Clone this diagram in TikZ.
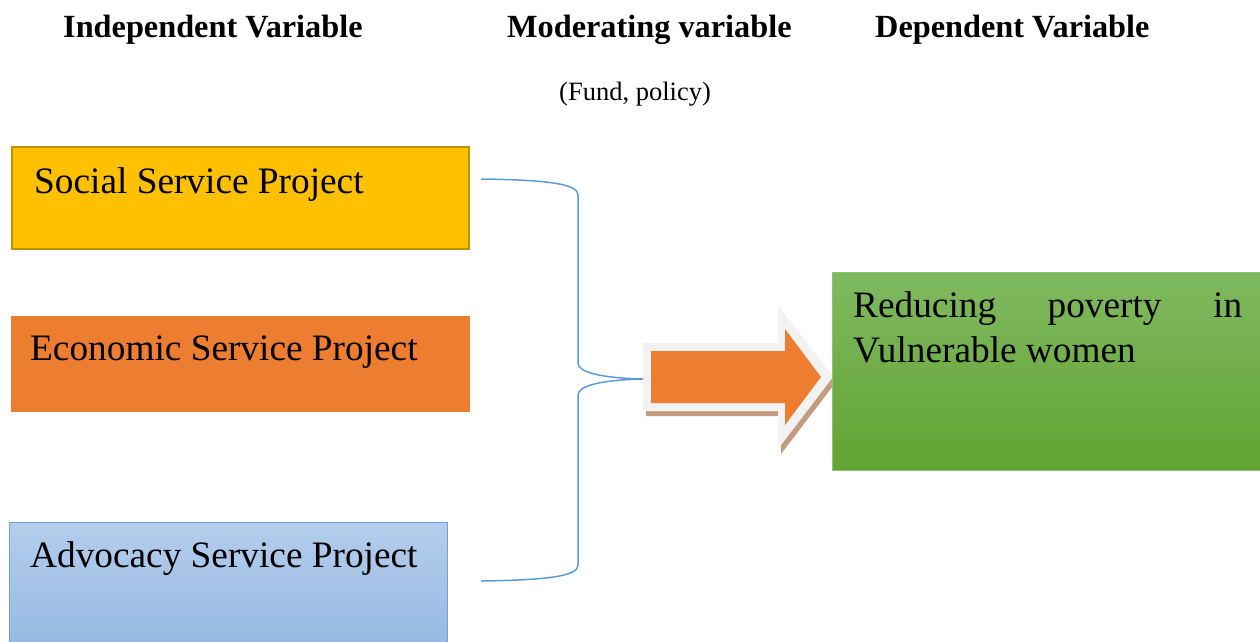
\documentclass[tikz,border=0pt]{standalone}
\usepackage{fontspec}
\setmainfont{Liberation Serif}
\definecolor{socialfill}{HTML}{FFC000}
\definecolor{socialedge}{HTML}{BF9000}
\definecolor{econfill}{HTML}{ED7D31}
\definecolor{advtop}{HTML}{B4CDEC}
\definecolor{advbottom}{HTML}{96B9E2}
\definecolor{advedge}{HTML}{6FA0D8}
\definecolor{greentop}{HTML}{80B960}
\definecolor{greenbottom}{HTML}{62A333}
\definecolor{greenedge}{HTML}{8EC470}
\definecolor{bracecol}{HTML}{5B9BD5}
\definecolor{arrowrim}{HTML}{F2F2F2}
\definecolor{arrowshadow}{HTML}{C49B7E}
\tikzset{
  box/.style={anchor=north west, inner sep=0pt, outer sep=0pt},
  boxtext/.style={anchor=base west, inner sep=0pt, font=\fontsize{37.3}{45}\selectfont},
  heading/.style={anchor=base west, inner sep=0pt, font=\fontsize{32.3}{38}\selectfont\bfseries},
  bracket/.style={draw=bracecol, line width=1.5pt},
}
\begin{document}
\begin{tikzpicture}[x=1pt,y=-1pt]
\useasboundingbox (0,0) rectangle (1260,641);

% column headings
\node[heading] (hind) at (63,37) {Independent Variable};
\node[heading] (hmod) at (507,37) {Moderating variable};
\node[heading] (hdep) at (875,37) {Dependent Variable};
\node[anchor=base west, inner sep=0pt, font=\fontsize{26.5}{30}\selectfont] (modnote) at (559,100) {(Fund, policy)};

% independent variable boxes
\node[box, draw=socialedge, line width=1.5pt, fill=socialfill,
      minimum width=457pt, minimum height=102pt] (social) at (12,147) {};
\node[boxtext] (socialtxt) at (34,193) {Social Service Project};

\node[box, fill=econfill, minimum width=459pt, minimum height=96pt] (econ) at (11,316) {};
\node[boxtext] (econtxt) at (30,360) {Economic Service Project};

\node[box, draw=advedge, line width=1pt, top color=advtop, bottom color=advbottom,
      minimum width=438pt, minimum height=125pt] (adv) at (9,522) {};
\node[boxtext] (advtxt) at (30,567) {Advocacy Service Project};

% bracket joining the three boxes
\coordinate (btop) at (481,179);
\coordinate (bbot) at (481,581);
\coordinate (btip) at (643,379);
\draw[bracket] (btop) .. controls (555,180) and (578,185) .. (578,195)
  -- (578,363) .. controls (578,372) and (600,378) .. (btip);
\draw[bracket] (btip) .. controls (600,380) and (578,386) .. (578,395)
  -- (578,565) .. controls (578,575) and (555,580) .. (bbot);

% block arrow with rim and shadow
\fill[arrowshadow, shift={(3,5)}] (643,343) -- (778,343) -- (778,305) -- (833,377)
  -- (778,449) -- (778,411) -- (643,411) -- cycle;
\fill[arrowrim] (643,343) -- (778,343) -- (778,305) -- (833,377)
  -- (778,449) -- (778,411) -- (643,411) -- cycle;
\fill[econfill] (651,351) -- (785,351) -- (785,329) -- (821,377)
  -- (785,425) -- (785,403) -- (651,403) -- cycle;

% dependent variable box
\node[box, draw=greenedge, line width=1pt, top color=greentop, bottom color=greenbottom,
      minimum width=440pt, minimum height=198pt] (green) at (832,272) {};
\node[anchor=base west, inner sep=0pt, align=left, font=\fontsize{37.3}{45}\selectfont]
  (greentxt) at (853,362) {\makebox[389pt][s]{Reducing poverty in}\\Vulnerable women};
\end{tikzpicture}
\end{document}
